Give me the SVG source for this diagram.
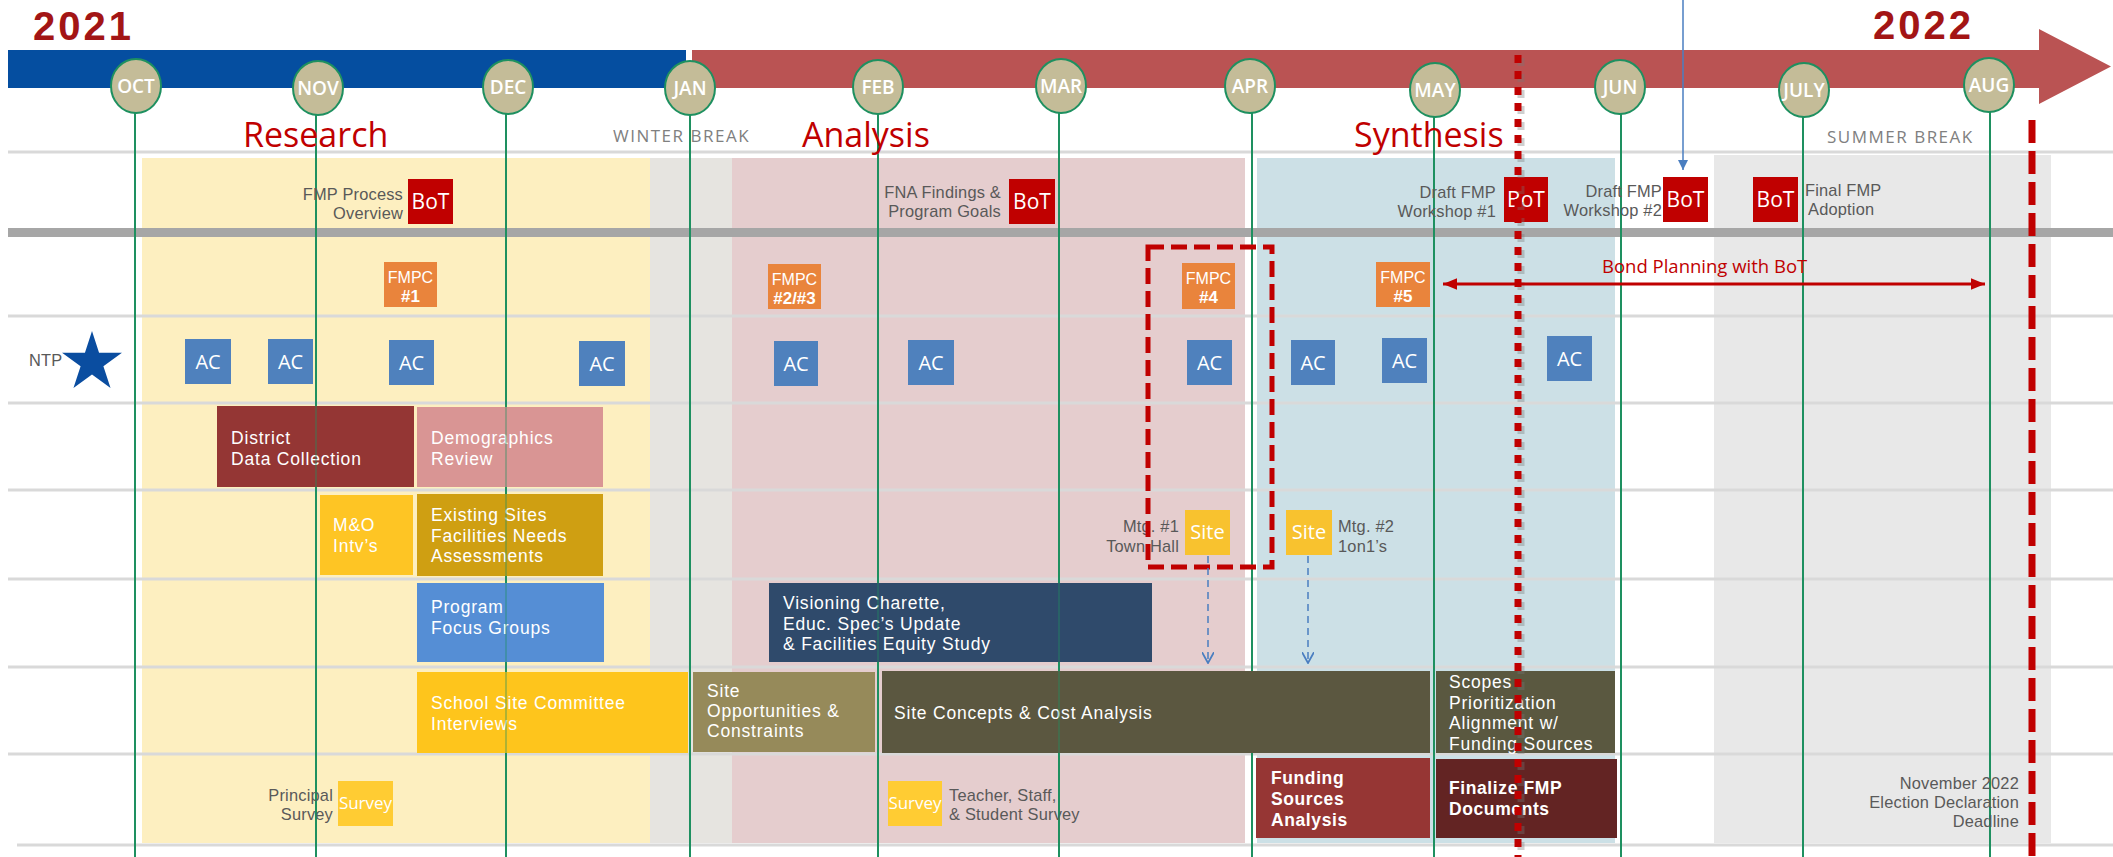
<svg xmlns="http://www.w3.org/2000/svg" width="2113" height="857" viewBox="0 0 2113 857">
<defs>
<style>
text{font-family:"Open Sans","Liberation Sans",sans-serif}
.row{stroke:#D9D9D9;stroke-width:3}
.vl{stroke:#1E9060;stroke-width:2}
.vlo{stroke:#1E9060;stroke-width:2;opacity:0.35}
.mc{fill:#C4BC98;stroke:#1E9060;stroke-width:2}
.mt{font-size:19px;font-weight:600;fill:#fff;text-anchor:middle}
.phase{font-size:34px;fill:#C00000}
.year{font-family:"Liberation Sans",sans-serif;font-size:40px;font-weight:700;fill:#A31515;letter-spacing:3px}
.brk{font-size:17px;fill:#808080;letter-spacing:1.5px}
.lbl{font-family:"Liberation Sans",Arial,sans-serif;font-size:16.4px;fill:#595959;letter-spacing:0.2px}
.end{text-anchor:end}
.bt{font-family:"Liberation Sans",Arial,sans-serif;font-size:17.5px;fill:#fff;letter-spacing:0.8px}
.btb{font-family:"Liberation Sans",Arial,sans-serif;font-size:17.5px;fill:#fff;font-weight:700;letter-spacing:0.6px}
.fm{font-family:"Liberation Sans",Arial,sans-serif;fill:#fff;text-anchor:middle}
.ct{fill:#fff;text-anchor:middle}
.bot{fill:#C00000}
.fmpc{fill:#E9843C}
.ac{fill:#4F81BD}
.site{fill:#F8C22F}
.survey{fill:#FFCC33}
</style>
<marker id="ah" viewBox="0 0 10 10" refX="10" refY="5" markerWidth="10" markerHeight="10" markerUnits="userSpaceOnUse" orient="auto-start-reverse"><path d="M0,0 L10,5 L0,10 z" fill="#4A7EC0"/></marker>
<marker id="av" viewBox="0 0 10 10" refX="9" refY="5" markerWidth="12" markerHeight="12" markerUnits="userSpaceOnUse" orient="auto"><path d="M0,0 L9,5 L0,10" fill="none" stroke="#4A7EC0" stroke-width="1.5"/></marker>
<marker id="ar" viewBox="0 0 12 10" refX="12" refY="5" markerWidth="14" markerHeight="12" markerUnits="userSpaceOnUse" orient="auto-start-reverse"><path d="M0,0 L12,5 L0,10 z" fill="#C00000"/></marker>
</defs>

<g id="backgrounds">
<rect x="142" y="158" width="508" height="685" fill="#FDEFC0"/>
<rect x="650" y="158" width="82" height="685" fill="#E6E4E0"/>
<rect x="732" y="158" width="513" height="685" fill="#E5CDCE"/>
<rect x="1257" y="158" width="358" height="685" fill="#CCE0E6"/>
<rect x="1714" y="155" width="337" height="688" fill="#E8E8E8"/>
</g>

<g id="rows">
<line class="row" x1="8" y1="152" x2="2113" y2="152"/>
<line x1="8" y1="232.5" x2="2113" y2="232.5" stroke="#A6A6A6" stroke-width="9"/>
<line class="row" x1="8" y1="316" x2="2113" y2="316"/>
<line class="row" x1="8" y1="403" x2="2113" y2="403"/>
<line class="row" x1="8" y1="490" x2="2113" y2="490"/>
<line class="row" x1="8" y1="579" x2="2113" y2="579"/>
<line class="row" x1="8" y1="667" x2="2113" y2="667"/>
<line class="row" x1="8" y1="754" x2="2113" y2="754"/>
<line class="row" x1="17" y1="845" x2="2113" y2="845"/>
</g>

<g id="month-lines">
<line class="vl" x1="135" y1="100" x2="135" y2="857"/>
<line class="vl" x1="316" y1="100" x2="316" y2="857"/>
<line class="vl" x1="506" y1="100" x2="506" y2="857"/>
<line class="vl" x1="690" y1="100" x2="690" y2="857"/>
<line class="vl" x1="878" y1="100" x2="878" y2="857"/>
<line class="vl" x1="1059" y1="100" x2="1059" y2="857"/>
<line class="vl" x1="1252" y1="100" x2="1252" y2="857"/>
<line class="vl" x1="1434" y1="100" x2="1434" y2="857"/>
<line class="vl" x1="1621" y1="100" x2="1621" y2="857"/>
<line class="vl" x1="1803" y1="100" x2="1803" y2="857"/>
<line class="vl" x1="1990" y1="100" x2="1990" y2="857"/>
</g>

<g id="timeline-bar">
<rect x="8" y="50" width="678" height="38" fill="#054EA0"/>
<polygon points="692,50 2039,50 2039,29 2111,66.5 2039,104 2039,88 692,88" fill="#BA5353"/>
</g>

<g id="months">
<g id="m-oct"><ellipse class="mc" cx="136" cy="86" rx="25" ry="27"/><text class="mt" x="136" y="93">OCT</text></g>
<g id="m-nov"><ellipse class="mc" cx="318" cy="88" rx="25" ry="27"/><text class="mt" x="318" y="95">NOV</text></g>
<g id="m-dec"><ellipse class="mc" cx="508" cy="87" rx="25" ry="27"/><text class="mt" x="508" y="94">DEC</text></g>
<g id="m-jan"><ellipse class="mc" cx="690" cy="88" rx="25" ry="27"/><text class="mt" x="690" y="95">JAN</text></g>
<g id="m-feb"><ellipse class="mc" cx="878" cy="87" rx="25" ry="27"/><text class="mt" x="878" y="94">FEB</text></g>
<g id="m-mar"><ellipse class="mc" cx="1061" cy="86" rx="25" ry="27"/><text class="mt" x="1061" y="93">MAR</text></g>
<g id="m-apr"><ellipse class="mc" cx="1250" cy="86" rx="25" ry="27"/><text class="mt" x="1250" y="93">APR</text></g>
<g id="m-may"><ellipse class="mc" cx="1435" cy="90" rx="25" ry="27"/><text class="mt" x="1435" y="97">MAY</text></g>
<g id="m-jun"><ellipse class="mc" cx="1620" cy="87" rx="25" ry="27"/><text class="mt" x="1620" y="94">JUN</text></g>
<g id="m-jul"><ellipse class="mc" cx="1804" cy="90" rx="25" ry="27"/><text class="mt" x="1804" y="97">JULY</text></g>
<g id="m-aug"><ellipse class="mc" cx="1989" cy="85" rx="25" ry="27"/><text class="mt" x="1989" y="92">AUG</text></g>
</g>

<g id="titles">
<text class="year" x="33" y="40">2021</text>
<text class="year" x="1873" y="39">2022</text>
<text class="phase" x="243" y="147">Research</text>
<text class="phase" x="802" y="147">Analysis</text>
<text class="phase" x="1354" y="147">Synthesis</text>
<text class="brk" x="613" y="142">WINTER BREAK</text>
<text class="brk" x="1827" y="143">SUMMER BREAK</text>
</g>

<g id="bot-1"><text class="lbl end" x="403" y="200">FMP Process<tspan x="403" dy="19">Overview</tspan></text><rect class="bot" x="408" y="179" width="45" height="45"/><text class="ct" x="430.5" y="209" font-size="21">BoT</text></g>
<g id="bot-2"><text class="lbl end" x="1001" y="198">FNA Findings &amp;<tspan x="1001" dy="19">Program Goals</tspan></text><rect class="bot" x="1009" y="179" width="46" height="45"/><text class="ct" x="1032" y="209" font-size="21">BoT</text></g>
<g id="bot-3"><text class="lbl end" x="1496" y="198">Draft FMP<tspan x="1496" dy="19">Workshop #1</tspan></text><rect class="bot" x="1504" y="177" width="44" height="45"/><text class="ct" x="1526" y="207" font-size="21">BoT</text></g>
<g id="bot-4"><text class="lbl end" x="1662" y="197">Draft FMP<tspan x="1662" dy="19">Workshop #2</tspan></text><rect class="bot" x="1663" y="177" width="45" height="45"/><text class="ct" x="1685.5" y="207" font-size="21">BoT</text></g>
<g id="bot-5"><rect class="bot" x="1753" y="177" width="45" height="45"/><text class="ct" x="1775.5" y="207" font-size="21">BoT</text><text class="lbl" x="1805" y="196">Final FMP<tspan x="1808" dy="19">Adoption</tspan></text></g>

<g id="fmpc-1"><rect class="fmpc" x="384" y="262" width="53" height="45"/><text class="fm" x="410.5" y="283" font-size="16">FMPC<tspan x="410.5" dy="19" font-size="17" font-weight="700">#1</tspan></text></g>
<g id="fmpc-23"><rect class="fmpc" x="768" y="264" width="53" height="45"/><text class="fm" x="794.5" y="285" font-size="16">FMPC<tspan x="794.5" dy="19" font-size="17" font-weight="700">#2/#3</tspan></text></g>
<g id="fmpc-4"><rect class="fmpc" x="1182" y="263" width="53" height="46"/><text class="fm" x="1208.5" y="284" font-size="16">FMPC<tspan x="1208.5" dy="19" font-size="17" font-weight="700">#4</tspan></text></g>
<g id="fmpc-5"><rect class="fmpc" x="1376" y="262" width="54" height="45"/><text class="fm" x="1403" y="283" font-size="16">FMPC<tspan x="1403" dy="19" font-size="17" font-weight="700">#5</tspan></text></g>

<g id="ntp"><text class="lbl" x="29" y="366" font-size="16">NTP</text><polygon points="92,331 99.05,352.79 121.96,352.77 103.41,366.21 110.52,387.98 92,374.5 73.48,387.98 80.59,366.21 62.04,352.77 84.95,352.79" fill="#0A4DA0"/></g>

<g id="ac-1"><rect class="ac" x="185" y="339" width="46" height="45"/><text class="ct" x="208" y="369" font-size="20">AC</text></g>
<g id="ac-2"><rect class="ac" x="268" y="339" width="45" height="45"/><text class="ct" x="290.5" y="369" font-size="20">AC</text></g>
<g id="ac-3"><rect class="ac" x="389" y="340" width="45" height="45"/><text class="ct" x="411.5" y="370" font-size="20">AC</text></g>
<g id="ac-4"><rect class="ac" x="579" y="341" width="46" height="45"/><text class="ct" x="602" y="371" font-size="20">AC</text></g>
<g id="ac-5"><rect class="ac" x="774" y="341" width="44" height="45"/><text class="ct" x="796" y="371" font-size="20">AC</text></g>
<g id="ac-6"><rect class="ac" x="908" y="340" width="46" height="45"/><text class="ct" x="931" y="370" font-size="20">AC</text></g>
<g id="ac-7"><rect class="ac" x="1187" y="340" width="45" height="45"/><text class="ct" x="1209.5" y="370" font-size="20">AC</text></g>
<g id="ac-8"><rect class="ac" x="1291" y="340" width="44" height="45"/><text class="ct" x="1313" y="370" font-size="20">AC</text></g>
<g id="ac-9"><rect class="ac" x="1382" y="338" width="45" height="45"/><text class="ct" x="1404.5" y="368" font-size="20">AC</text></g>
<g id="ac-10"><rect class="ac" x="1547" y="336" width="45" height="45"/><text class="ct" x="1569.5" y="366" font-size="20">AC</text></g>

<g id="district"><rect x="217" y="406" width="197" height="81" fill="#943634"/><text class="bt" x="231" y="444">District<tspan x="231" dy="21">Data Collection</tspan></text></g>
<g id="demographics"><rect x="417" y="407" width="186" height="80" fill="#D99594"/><text class="bt" x="431" y="444">Demographics<tspan x="431" dy="21">Review</tspan></text></g>
<g id="mo"><rect x="320" y="495" width="93" height="80" fill="#FEC524"/><text class="bt" x="333" y="531">M&amp;O<tspan x="333" dy="21">Intv’s</tspan></text></g>
<g id="existing"><rect x="417" y="494" width="186" height="82" fill="#CF9F12"/><text class="bt" x="431" y="521">Existing Sites<tspan x="431" dy="20.5">Facilities Needs</tspan><tspan x="431" dy="20.5">Assessments</tspan></text></g>
<g id="program"><rect x="417" y="583" width="187" height="79" fill="#558ED5"/><text class="bt" x="431" y="613">Program<tspan x="431" dy="20.5">Focus Groups</tspan></text></g>
<g id="school-site"><rect x="417" y="672" width="271" height="81" fill="#FEC51C"/><text class="bt" x="431" y="709">School Site Committee<tspan x="431" dy="20.5">Interviews</tspan></text></g>
<g id="principal"><text class="lbl end" x="333" y="801">Principal<tspan x="333" dy="19">Survey</tspan></text><rect class="survey" x="338" y="781" width="55" height="45"/><text class="ct" x="365.5" y="809" font-size="17">Survey</text></g>

<g id="mtg-1"><text class="lbl end" x="1179" y="532">Mtg. #1<tspan x="1179" dy="20">Town Hall</tspan></text><rect class="site" x="1185" y="510" width="45" height="45"/><text class="ct" x="1207.5" y="539" font-size="20">Site</text></g>
<g id="mtg-2"><rect class="site" x="1286" y="510" width="46" height="45"/><text class="ct" x="1309" y="539" font-size="20">Site</text><text class="lbl" x="1338" y="532">Mtg. #2<tspan x="1338" dy="20">1on1’s</tspan></text></g>

<g id="visioning"><rect x="769" y="583" width="383" height="79" fill="#2F4A6B"/><text class="bt" x="783" y="609">Visioning Charette,<tspan x="783" dy="20.5">Educ. Spec’s Update</tspan><tspan x="783" dy="20.5">&amp; Facilities Equity Study</tspan></text></g>
<g id="site-opps"><rect x="693" y="672" width="182" height="80" fill="#968A5A"/><text class="bt" x="707" y="697">Site<tspan x="707" dy="20">Opportunities &amp;</tspan><tspan x="707" dy="20">Constraints</tspan></text></g>
<g id="site-concepts"><rect x="882" y="671" width="548" height="82" fill="#5B5740"/><text class="bt" x="894" y="719">Site Concepts &amp; Cost Analysis</text></g>
<g id="scopes"><rect x="1436" y="671" width="179" height="82" fill="#5A5840"/><text class="bt" x="1449" y="688">Scopes<tspan x="1449" dy="20.5">Prioritization</tspan><tspan x="1449" dy="20.5">Alignment w/</tspan><tspan x="1449" dy="20.5">Funding Sources</tspan></text></g>
<g id="teacher-survey"><rect class="survey" x="888" y="781" width="54" height="45"/><text class="ct" x="915" y="809" font-size="17">Survey</text><text class="lbl" x="949" y="801">Teacher, Staff,<tspan x="949" dy="19">&amp; Student Survey</tspan></text></g>
<g id="funding"><rect x="1256" y="758" width="174" height="80" fill="#963634"/><text class="btb" x="1271" y="784">Funding<tspan x="1271" dy="21">Sources</tspan><tspan x="1271" dy="21">Analysis</tspan></text></g>
<g id="finalize"><rect x="1436" y="759" width="181" height="79" fill="#632423"/><text class="btb" x="1449" y="794">Finalize FMP<tspan x="1449" dy="21">Documents</tspan></text></g>
<g id="deadline"><text class="lbl end" x="2019" y="789">November 2022<tspan x="2019" dy="19">Election Declaration</tspan><tspan x="2019" dy="19">Deadline</tspan></text></g>

<g id="month-lines-overlay">
<line class="vlo" x1="316" y1="403" x2="316" y2="857"/>
<line class="vlo" x1="506" y1="403" x2="506" y2="857"/>
<line class="vlo" x1="878" y1="579" x2="878" y2="857"/>
<line class="vlo" x1="1059" y1="579" x2="1059" y2="857"/>
</g>

<g id="markers">
<rect x="1148" y="247" width="124" height="320" fill="none" stroke="#C00000" stroke-width="5" stroke-dasharray="16 7"/>
<line x1="1521" y1="58" x2="1521" y2="857" stroke="#777" stroke-width="7" stroke-dasharray="8 8" opacity="0.35"/>
<line x1="1518" y1="55" x2="1518" y2="857" stroke="#C00000" stroke-width="7" stroke-dasharray="8 8"/>
<line x1="2032" y1="120" x2="2032" y2="857" stroke="#C00000" stroke-width="7" stroke-dasharray="23 8"/>
</g>

<g id="connectors">
<line x1="1683" y1="0" x2="1683" y2="170" stroke="#4A7EC0" stroke-width="1.5" marker-end="url(#ah)"/>
<line x1="1208" y1="556" x2="1208" y2="663" stroke="#4A7EC0" stroke-width="1.5" stroke-dasharray="7 5" marker-end="url(#av)"/>
<line x1="1308" y1="556" x2="1308" y2="663" stroke="#4A7EC0" stroke-width="1.5" stroke-dasharray="7 5" marker-end="url(#av)"/>
<line x1="1443" y1="284" x2="1985" y2="284" stroke="#C00000" stroke-width="3" marker-start="url(#ar)" marker-end="url(#ar)"/>
<text x="1602" y="273" font-size="18.5" fill="#C00000">Bond Planning with BoT</text>
</g>
</svg>
